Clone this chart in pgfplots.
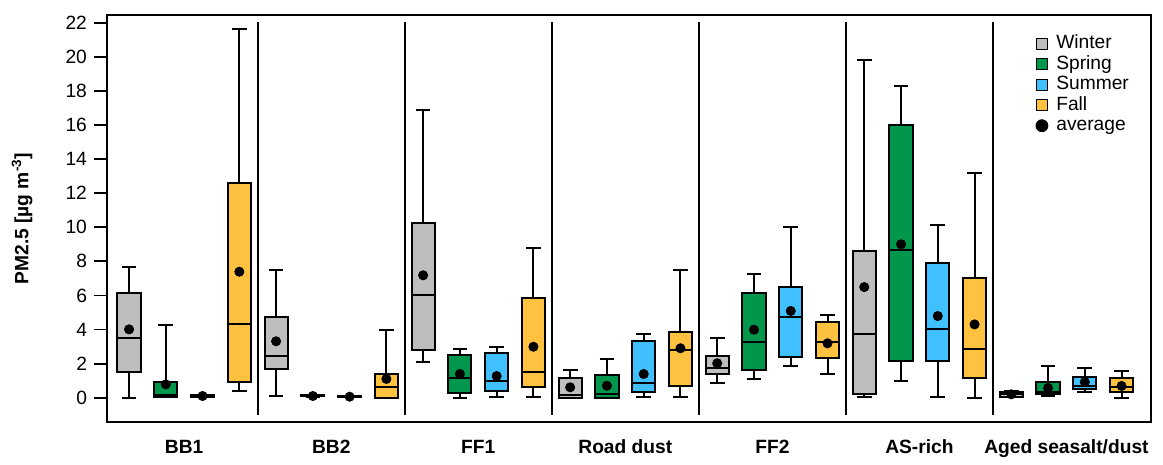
\documentclass[border=0pt]{standalone}
\usepackage{fontspec}
\setmainfont{Liberation Sans}
\usepackage{pgfplots}
\pgfplotsset{compat=1.18}
\usepgfplotslibrary{statistics}

\definecolor{cwin}{RGB}{190,190,190}
\definecolor{cspr}{RGB}{0,150,76}
\definecolor{csum}{RGB}{64,192,255}
\definecolor{cfal}{RGB}{255,194,64}

% position, colour, lower whisker, lower quartile, median, upper quartile, upper whisker
\newcommand{\bp}[7]{%
  \addplot[draw=black, line width=1pt, forget plot,
    boxplot/draw direction=y,
    boxplot/every box/.style={fill=#2},
    boxplot prepared={draw position=#1, lower whisker=#3, lower quartile=#4,
      median=#5, upper quartile=#6, upper whisker=#7,
      box extend=0.63, whisker extend=0.4}] coordinates {};}

\begin{document}
\begin{tikzpicture}
\begin{axis}[
    scale only axis,
    width=522pt, height=203.5pt,
    xmin=0.4, xmax=28.8, ymin=-1.425, ymax=22.45,
    axis line style={line width=1pt},
    font=\fontsize{9.6}{11}\selectfont,
    /pgf/number format/assume math mode=true,
    ytick={0,2,...,22},
    ytick pos=left,
    tick align=outside,
    major tick length=6.5pt,
    tick style={black, line width=0.9pt},
    xtick={2.5,6.5,10.5,14.5,18.5,22.5,26.5},
    xticklabels={BB1,BB2,FF1,Road dust,FF2,AS-rich,Aged seasalt/dust},
    x tick style={draw=none},
    xticklabel style={font=\fontsize{9.6}{11}\selectfont\bfseries, yshift=1pt},
    ylabel={\textbf{PM2.5 [µg m\textsuperscript{-3}]}},
    ylabel style={at={(axis description cs:-0.0814,0.5)}, anchor=center},
    legend style={draw=none, fill=none, at={(0.889,0.955)}, anchor=north west,
      font=\fontsize{9.6}{10}\selectfont, row sep=0.25pt, column sep=3pt, inner sep=0pt,
      nodes={inner sep=1pt, text height=6.5pt, text depth=1.5pt}},
    legend cell align=left,
]
% separators
\draw[line width=0.8pt] (axis cs:4.5,-1) -- (axis cs:4.5,22.04);
\draw[line width=0.8pt] (axis cs:8.5,-1) -- (axis cs:8.5,22.04);
\draw[line width=0.8pt] (axis cs:12.5,-1) -- (axis cs:12.5,22.04);
\draw[line width=0.8pt] (axis cs:16.5,-1) -- (axis cs:16.5,22.04);
\draw[line width=0.8pt] (axis cs:20.5,-1) -- (axis cs:20.5,22.04);
\draw[line width=0.8pt] (axis cs:24.5,-1) -- (axis cs:24.5,22.04);

% BB1
\bp{1}{cwin}{0.0}{1.53}{3.48}{6.16}{7.67}
\bp{2}{cspr}{0.05}{0.06}{0.16}{0.94}{4.24}
\bp{3}{csum}{0.03}{0.06}{0.10}{0.14}{0.17}
\bp{4}{cfal}{0.39}{0.94}{4.32}{12.57}{21.6}
% BB2
\bp{5}{cwin}{0.1}{1.66}{2.46}{4.75}{7.49}
\bp{6}{cspr}{0.06}{0.08}{0.10}{0.13}{0.15}
\bp{7}{csum}{0.04}{0.05}{0.06}{0.08}{0.10}
\bp{8}{cfal}{0.0}{0.0}{0.61}{1.39}{3.97}
% FF1
\bp{9}{cwin}{2.11}{2.8}{6.0}{10.26}{16.87}
\bp{10}{cspr}{0.0}{0.29}{1.14}{2.5}{2.86}
\bp{11}{csum}{0.02}{0.39}{1.0}{2.6}{2.99}
\bp{12}{cfal}{0.06}{0.61}{1.53}{5.87}{8.8}
% Road dust
\bp{13}{cwin}{0.0}{0.0}{0.16}{1.16}{1.64}
\bp{14}{cspr}{0.0}{0.0}{0.22}{1.33}{2.27}
\bp{15}{csum}{0.06}{0.35}{0.84}{3.33}{3.75}
\bp{16}{cfal}{0.02}{0.7}{2.8}{3.83}{7.49}
% FF2
\bp{17}{cwin}{0.84}{1.37}{1.72}{2.45}{3.52}
\bp{18}{cspr}{1.1}{1.64}{3.28}{6.16}{7.24}
\bp{19}{csum}{1.88}{2.37}{4.75}{6.47}{10.01}
\bp{20}{cfal}{1.37}{2.35}{3.28}{4.46}{4.85}
% AS-rich
\bp{21}{cwin}{0.02}{0.23}{3.72}{8.62}{19.82}
\bp{22}{cspr}{0.98}{2.13}{8.64}{15.99}{18.26}
\bp{23}{csum}{0.04}{2.13}{4.05}{7.9}{10.13}
\bp{24}{cfal}{0.0}{1.17}{2.86}{7.02}{13.18}
% Aged seasalt/dust
\bp{25}{cwin}{0.02}{0.06}{0.2}{0.33}{0.42}
\bp{26}{cspr}{0.1}{0.2}{0.32}{0.92}{1.86}
\bp{27}{csum}{0.35}{0.49}{0.7}{1.2}{1.74}
\bp{28}{cfal}{0.0}{0.35}{0.61}{1.17}{1.58}

% averages
\addplot[only marks, mark=*, mark size=2.3pt, black, forget plot] coordinates {
  (1,4.01) (2,0.78) (3,0.10) (4,7.39)
  (5,3.31) (6,0.10) (7,0.06) (8,1.10)
  (9,7.18) (10,1.39) (11,1.27) (12,2.99)
  (13,0.61) (14,0.70) (15,1.39) (16,2.90)
  (17,2.02) (18,3.99) (19,5.09) (20,3.19)
  (21,6.49) (22,9.00) (23,4.79) (24,4.30)
  (25,0.20) (26,0.57) (27,0.92) (28,0.69)
};

% legend
\addlegendimage{legend image code/.code={\draw[black, line width=0.5pt, fill=cwin] (0pt,-2.75pt) rectangle (5.5pt,2.75pt);}}
\addlegendentry{Winter}
\addlegendimage{legend image code/.code={\draw[black, line width=0.5pt, fill=cspr] (0pt,-2.75pt) rectangle (5.5pt,2.75pt);}}
\addlegendentry{Spring}
\addlegendimage{legend image code/.code={\draw[black, line width=0.5pt, fill=csum] (0pt,-2.75pt) rectangle (5.5pt,2.75pt);}}
\addlegendentry{Summer}
\addlegendimage{legend image code/.code={\draw[black, line width=0.5pt, fill=cfal] (0pt,-2.75pt) rectangle (5.5pt,2.75pt);}}
\addlegendentry{Fall}
\addlegendimage{legend image code/.code={\fill[black] (2.75pt,0pt) circle (3pt);}}
\addlegendentry{average}
\end{axis}
\path ([xshift=-53.5pt,yshift=-18.5pt]current axis.south west) rectangle ([xshift=6pt,yshift=7.5pt]current axis.north east);
\end{tikzpicture}
\end{document}
